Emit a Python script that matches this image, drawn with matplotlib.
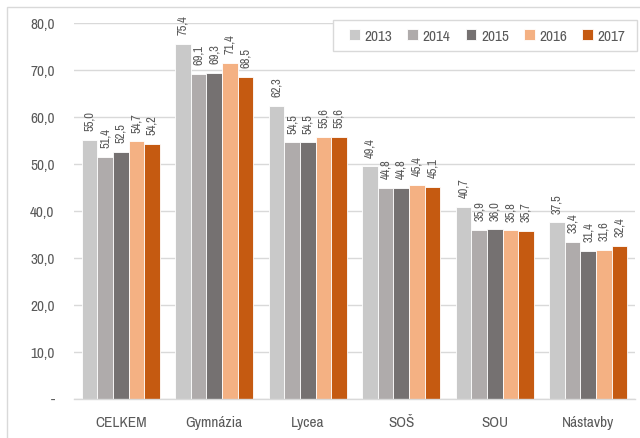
import matplotlib
matplotlib.use("Agg")
import matplotlib.pyplot as plt
import matplotlib.font_manager as fm
import numpy as np
from matplotlib.patches import Rectangle

categories = ["CELKEM", "Gymnázia", "Lycea", "SOŠ", "SOU", "Nástavby"]
years = ["2013", "2014", "2015", "2016", "2017"]
v2013 = [55.0, 75.4, 62.3, 49.4, 40.7, 37.5]
v2014 = [51.4, 69.1, 54.5, 44.8, 35.9, 33.4]
v2015 = [52.5, 69.3, 54.5, 44.8, 36.0, 31.4]
v2016 = [54.7, 71.4, 55.6, 45.4, 35.8, 31.6]
v2017 = [54.2, 68.5, 55.6, 45.1, 35.7, 32.4]
series = [v2013, v2014, v2015, v2016, v2017]
colors = ["#C9C9C9", "#AFABAB", "#757171", "#F4B183", "#C55A11"]
yticks = [0, 10, 20, 30, 40, 50, 60, 70, 80]

names = sorted({f.name for f in fm.fontManager.ttflist})
narrow = [n for n in names if "Narrow" in n] + [n for n in names if "Condensed" in n]
plt.rcParams['font.family'] = narrow[:1] + ['Liberation Sans', 'DejaVu Sans']
txt = "#595959"

fig = plt.figure(figsize=(6.4, 4.39), dpi=100)
fig.patches.append(Rectangle((7/640, -0.1), 2, 1 - 8/439 + 0.1, transform=fig.transFigure,
                             fill=False, edgecolor="#D9D9D9", linewidth=1.0))
ax = fig.add_axes([74/640, 1 - 399.5/439, (635 - 74)/640, (399.5 - 23.5)/439])

n = len(series)
x = np.arange(len(categories))
w = 1 / 6
for i, (vals, c) in enumerate(zip(series, colors)):
    pos = x + (i - (n - 1) / 2) * w
    ax.bar(pos, vals, width=w, color=c, edgecolor="white", linewidth=0.6,
           label=years[i], zorder=3)
    for p, v in zip(pos, vals):
        ax.annotate(f"{v:.1f}".replace(".", ","), (p, v), xytext=(0, 7),
                    textcoords="offset points", rotation=90, ha="center", va="bottom",
                    fontsize=9, color=txt)

ax.set_xlim(-0.5, len(categories) - 0.5)
ax.set_ylim(0, 80)
ax.set_yticks(yticks)
ax.set_yticklabels(["-"] + [f"{t:.1f}".replace(".", ",") for t in yticks[1:]])
ax.set_xticks(x)
ax.set_xticklabels(categories)
ax.tick_params(axis="both", length=0, labelsize=11, colors=txt)
ax.tick_params(axis="y", pad=14)
ax.tick_params(axis="x", pad=12)
for s in ["top", "right", "left"]:
    ax.spines[s].set_visible(False)
ax.spines["bottom"].set_color("#D9D9D9")
ax.spines["bottom"].set_linewidth(1.0)
ax.spines["bottom"].set_zorder(4)
ax.yaxis.grid(True, color="#D9D9D9", linewidth=1.0, zorder=0)
ax.set_axisbelow(True)

# legend box
fig.patches.append(Rectangle((333/640, 1 - 52/439), (637 - 333)/640, 31/439,
                             transform=fig.transFigure, facecolor="white",
                             edgecolor="#D9D9D9", linewidth=1.0, zorder=5))
leg = fig.legend(*ax.get_legend_handles_labels(), ncol=5, loc="center left",
                 bbox_to_anchor=(349/640, 1 - 37/439),
                 frameon=False, handlelength=0.7, handleheight=0.7,
                 handletextpad=0.3, columnspacing=1.0, fontsize=11,
                 borderpad=0, borderaxespad=0)
leg.set_zorder(6)
for t in leg.get_texts():
    t.set_color(txt)

fig.savefig("out.png", dpi=100)
